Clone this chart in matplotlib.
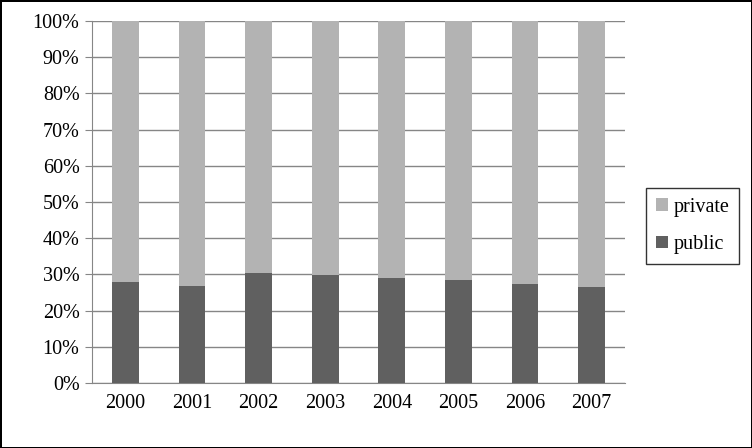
import matplotlib
matplotlib.use("Agg")
import matplotlib.pyplot as plt
from matplotlib.ticker import FuncFormatter
import numpy as np

years = ["2000", "2001", "2002", "2003", "2004", "2005", "2006", "2007"]
public = [27.9, 26.8, 30.4, 29.8, 29.0, 28.5, 27.3, 26.5]
private = [100 - v for v in public]

plt.rcParams['font.family'] = ['Liberation Serif', 'DejaVu Serif']

fig = plt.figure(figsize=(7.52, 4.48), dpi=100)
fig.patch.set_edgecolor('black')
fig.patch.set_linewidth(2)
ax = fig.add_axes([92/752, 65/448, (625-92)/752, (383-21)/448])

x = np.arange(len(years))
ax.bar(x, public, width=0.4, color='#606060', label='public', zorder=3)
ax.bar(x, private, width=0.4, bottom=public, color='#b3b3b3', label='private', zorder=3)

ax.set_xlim(-0.5, len(years) - 0.5)
ax.set_ylim(0, 100)
ax.set_yticks(np.arange(0, 101, 10))
ax.yaxis.set_major_formatter(FuncFormatter(lambda v, p: f"{int(v)}%"))
ax.set_xticks(x)
ax.set_xticklabels(years)
ax.grid(axis='y', color='#868686', linewidth=1, zorder=0)
for s in ['top', 'right']:
    ax.spines[s].set_visible(False)
ax.spines['left'].set_color('#868686')
ax.spines['bottom'].set_color('#868686')
ax.tick_params(axis='y', length=5, color='#868686', labelsize=14.5, pad=4)
ax.tick_params(axis='x', length=0, labelsize=14.5, pad=8)

handles, labels = ax.get_legend_handles_labels()
leg = ax.legend(handles[::-1], labels[::-1], loc='center left', bbox_to_anchor=(646/752, 222/448),
                bbox_transform=fig.transFigure, frameon=True, fancybox=False,
                edgecolor='black', fontsize=14.5, handlelength=0.6, handleheight=0.6,
                handletextpad=0.25, labelspacing=0.9, borderpad=0.5, borderaxespad=0)
leg.get_frame().set_linewidth(1)

fig.savefig("out.png", dpi=100, edgecolor=fig.get_edgecolor())
